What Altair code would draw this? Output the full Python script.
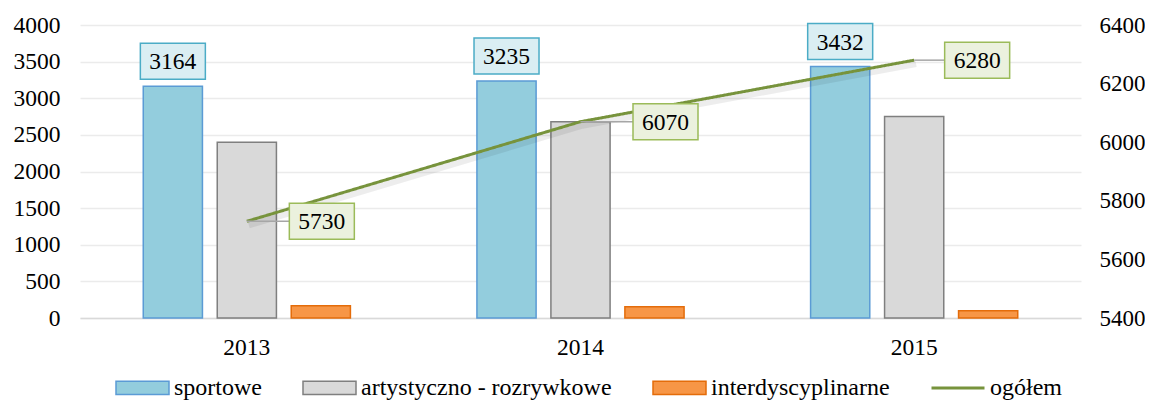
import altair as alt
import pandas as pd

years = ["2013", "2014", "2015"]
categories = ["sportowe", "artystyczno - rozrywkowe", "interdyscyplinarne"]
sportowe = [3164, 3235, 3432]
artystyczno = [2400, 2680, 2750]
interdyscyplinarne = [166, 155, 98]
line_name = "ogółem"
ogolem = [5730, 6070, 6280]
left_ticks = list(range(0, 4001, 500))
right_ticks = list(range(5400, 6401, 200))

bar_fill = ["#93CDDD", "#D9D9D9", "#F79646"]
bar_stroke = ["#5B9BD5", "#7F7F7F", "#E46C0A"]
LINE_COLOR = "#77933C"
FONT = "Liberation Serif"
FS = 23.5

rows = []
for cat, vals in zip(categories, [sportowe, artystyczno, interdyscyplinarne]):
    for y, v in zip(years, vals):
        rows.append({"rok": y, "kat": cat, "val": v})
bars_df = pd.DataFrame(rows)
line_df = pd.DataFrame({"rok": years, "val": ogolem, "name": [line_name] * len(years)})

x_enc = alt.X("rok:N", sort=years,
              scale=alt.Scale(domain=years, paddingInner=0, paddingOuter=0),
              axis=alt.Axis(title=None, labelAngle=0, ticks=False, domain=True,
                            domainColor="#D9D9D9", domainWidth=1.5,
                            labelPadding=17, labelFont=FONT, labelFontSize=FS,
                            labelColor="#000000"))
xo_enc = alt.XOffset("kat:N", sort=categories,
                     scale=alt.Scale(domain=categories, paddingInner=0.2, paddingOuter=0.855))
y_left = alt.Y("val:Q", scale=alt.Scale(domain=[0, 4000], nice=False, zero=True),
               axis=alt.Axis(title=None, values=left_ticks, format="d", grid=True,
                             gridColor="#EBEBEB", gridWidth=1.5, domain=False, ticks=False,
                             labelPadding=20, labelFont=FONT, labelFontSize=FS,
                             labelColor="#000000"))

bar_legend = alt.Legend(title=None, orient="none", legendX=35, legendY=335,
                        direction="horizontal",
                        symbolType="M-1,-0.25L1,-0.25L1,0.25L-1,0.25Z",
                        symbolSize=2809, symbolStrokeWidth=1.5, symbolOpacity=1,
                        labelFont=FONT, labelFontSize=24, labelColor="#000000",
                        labelLimit=0, labelOffset=4, columnPadding=38)

bars = alt.Chart(bars_df).mark_bar(strokeWidth=1.5).encode(
    x=x_enc, xOffset=xo_enc, y=y_left,
    fill=alt.Fill("kat:N", scale=alt.Scale(domain=categories, range=bar_fill), legend=bar_legend),
    stroke=alt.Stroke("kat:N", scale=alt.Scale(domain=categories, range=bar_stroke), legend=bar_legend),
)

sp_df = bars_df[bars_df["kat"] == categories[0]]
BOX = "M-1,-0.554L1,-0.554L1,0.554L-1,0.554Z"
sp_box = alt.Chart(sp_df).mark_point(shape=BOX, size=4225, filled=True, fill="#DAEEF3",
                                     stroke="#4BACC6", strokeWidth=1.5, opacity=1,
                                     yOffset=-25).encode(
    x=x_enc, xOffset=xo_enc, y=y_left)
sp_text = alt.Chart(sp_df).mark_text(font=FONT, fontSize=FS, color="#000000",
                                     baseline="middle", dy=-24).encode(
    x=x_enc, xOffset=xo_enc, y=y_left, text="val:Q")

layer_a = alt.layer(bars, sp_box, sp_text)

y_right = alt.Y("val:Q", scale=alt.Scale(domain=[5400, 6400], nice=False, zero=False),
                axis=alt.Axis(title=None, orient="right", values=right_ticks, format="d",
                              grid=False, domain=False, ticks=False, labelPadding=18,
                              labelFont=FONT, labelFontSize=23, labelColor="#000000"))

line_legend = alt.Legend(title=None, orient="none", legendX=850, legendY=335,
                         direction="horizontal", symbolType="stroke", symbolSize=2809,
                         symbolStrokeColor=LINE_COLOR, symbolStrokeWidth=3,
                         labelFont=FONT, labelFontSize=24, labelColor="#000000",
                         labelOffset=4)

shadow = alt.Chart(line_df).mark_line(color="#000000", opacity=0.07, strokeWidth=6,
                                      xOffset=2, yOffset=4).encode(x=x_enc, y=y_right)
line = alt.Chart(line_df).mark_line(color=LINE_COLOR, strokeWidth=3).encode(
    x=x_enc, y=y_right,
    strokeDash=alt.StrokeDash("name:N", scale=alt.Scale(domain=[line_name], range=[[1, 0]]),
                              legend=line_legend))

label_dx = [75, 85, 63]
line_layers = [shadow, line]
for yr, dx in zip(years, label_dx):
    sub = alt.Chart(line_df).transform_filter(alt.datum.rok == yr)
    lead = dx - 32.5
    line_layers.append(sub.mark_point(shape="M0,0L1,0", size=(2 * lead) ** 2, filled=False,
                                      stroke="#A6A6A6", strokeWidth=1.5, opacity=1).encode(
        x=x_enc, y=y_right))
for yr, dx in zip(years, label_dx):
    sub = alt.Chart(line_df).transform_filter(alt.datum.rok == yr)
    line_layers.append(sub.mark_point(shape=BOX, size=4225, filled=True, fill="#EBF1DE",
                                      stroke="#9BBB59", strokeWidth=1.5, opacity=1,
                                      xOffset=dx).encode(x=x_enc, y=y_right))
    line_layers.append(sub.mark_text(font=FONT, fontSize=FS, color="#000000",
                                     baseline="middle", dx=dx, dy=1).encode(
        x=x_enc, y=y_right, text="val:Q"))

layer_b = alt.layer(*line_layers)

chart = alt.layer(layer_a, layer_b).resolve_scale(y="independent").properties(
    width=1001, height=293,
    autosize=alt.AutoSizeParams(type="none"),
    padding={"left": 72, "top": 17, "right": 64, "bottom": 84},
).configure_view(stroke=None)

chart.save("out.html", embed_options={"renderer": "svg", "actions": False})
